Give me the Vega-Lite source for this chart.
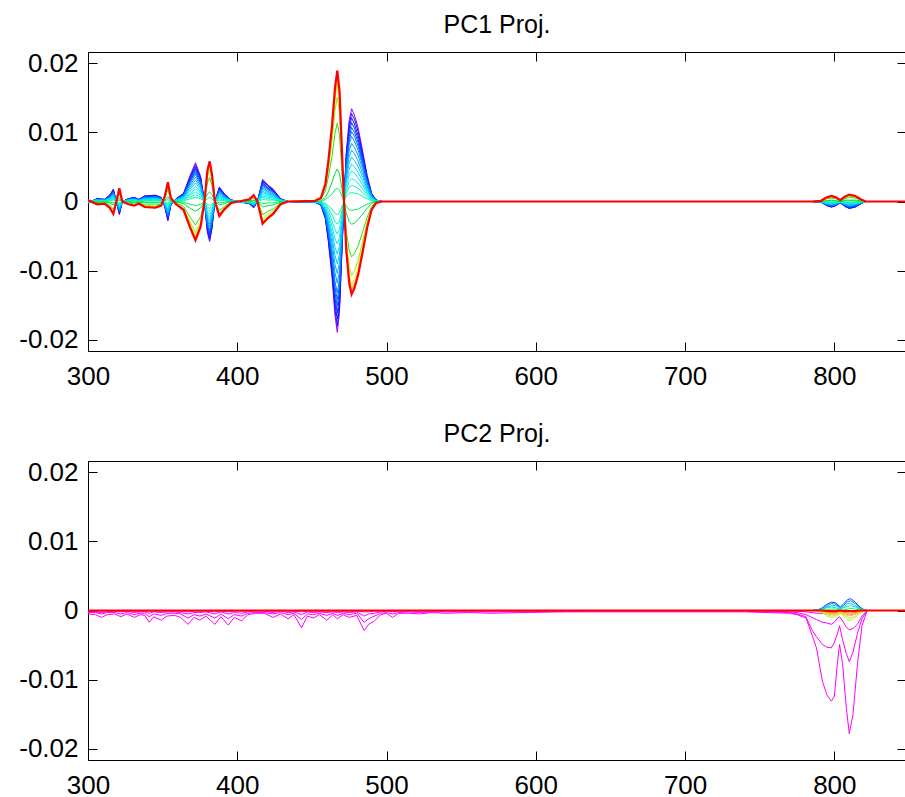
{
"$schema":"https://vega.github.io/schema/vega-lite/v6.json",
"padding":{"left":18,"top":12,"right":0,"bottom":-5},
"background":"white",
"config":{
 "font":"Liberation Sans",
 "view":{"stroke":"#000","strokeWidth":1},
 "axis":{"grid":false,"domain":false,"tickSize":-9,"tickColor":"#000","tickWidth":1,"labelFontSize":26,"labelColor":"#000","labelFont":"Liberation Sans","title":null,"labelFlush":false},
 "title":{"fontSize":25,"font":"Liberation Sans","fontWeight":"normal","color":"#000","offset":12}
},
"datasets":{
"pc1":[
{"x":300,"a":-2e-4,"b":-2e-4,"c":-2e-4,"d":-2e-4,"e":-1e-4,"f":-1e-4,"g":-1e-4,"h":0,"i":0,"j":0,"k":0,"l":1e-4,"m":2e-4,"n":2e-4,"o":2e-4,"p":2e-4,"q":-2e-4,"r":-2e-4,"s":-1e-4,"t":-1e-4,"u":-1e-4,"v":0},
{"x":306,"a":4e-4,"b":4e-4,"c":4e-4,"d":3e-4,"e":3e-4,"f":2e-4,"g":2e-4,"h":1e-4,"i":0,"j":0,"k":-1e-4,"l":-2e-4,"m":-3e-4,"n":-4e-4,"o":-4e-4,"p":-4e-4,"q":3e-4,"r":3e-4,"s":3e-4,"t":2e-4,"u":1e-4,"v":1e-4},
{"x":311,"a":3e-4,"b":3e-4,"c":3e-4,"d":2e-4,"e":2e-4,"f":2e-4,"g":1e-4,"h":1e-4,"i":0,"j":0,"k":-1e-4,"l":-2e-4,"m":-2e-4,"n":-3e-4,"o":-3e-4,"p":-3e-4,"q":3e-4,"r":2e-4,"s":2e-4,"t":1e-4,"u":1e-4,"v":1e-4},
{"x":314.5,"a":9e-4,"b":9e-4,"c":8e-4,"d":7e-4,"e":6e-4,"f":5e-4,"g":4e-4,"h":2e-4,"i":1e-4,"j":-1e-4,"k":-2e-4,"l":-5e-4,"m":-7e-4,"n":-8e-4,"o":-9e-4,"p":-9e-4,"q":8e-4,"r":7e-4,"s":6e-4,"t":4e-4,"u":3e-4,"v":2e-4},
{"x":317,"a":18e-4,"b":17e-4,"c":16e-4,"d":14e-4,"e":13e-4,"f":10e-4,"g":7e-4,"h":5e-4,"i":2e-4,"j":-2e-4,"k":-5e-4,"l":-11e-4,"m":-14e-4,"n":-16e-4,"o":-17e-4,"p":-18e-4,"q":15e-4,"r":14e-4,"s":11e-4,"t":9e-4,"u":6e-4,"v":3e-4},
{"x":319,"a":0,"b":0,"c":0,"d":0,"e":0,"f":0,"g":0,"h":0,"i":0,"j":0,"k":0,"l":0,"m":0,"n":0,"o":0,"p":0,"q":0,"r":0,"s":0,"t":0,"u":0,"v":0},
{"x":321,"a":-19e-4,"b":-18e-4,"c":-17e-4,"d":-15e-4,"e":-13e-4,"f":-10e-4,"g":-8e-4,"h":-5e-4,"i":-2e-4,"j":2e-4,"k":5e-4,"l":11e-4,"m":15e-4,"n":17e-4,"o":18e-4,"p":19e-4,"q":-16e-4,"r":-14e-4,"s":-12e-4,"t":-9e-4,"u":-6e-4,"v":-3e-4},
{"x":323,"a":0,"b":0,"c":0,"d":0,"e":0,"f":0,"g":0,"h":0,"i":0,"j":0,"k":0,"l":0,"m":0,"n":0,"o":0,"p":0,"q":0,"r":0,"s":0,"t":0,"u":0,"v":0},
{"x":327,"a":4e-4,"b":4e-4,"c":4e-4,"d":3e-4,"e":3e-4,"f":2e-4,"g":2e-4,"h":1e-4,"i":0,"j":0,"k":-1e-4,"l":-2e-4,"m":-3e-4,"n":-4e-4,"o":-4e-4,"p":-4e-4,"q":3e-4,"r":3e-4,"s":3e-4,"t":2e-4,"u":1e-4,"v":1e-4},
{"x":331,"a":6e-4,"b":6e-4,"c":5e-4,"d":5e-4,"e":4e-4,"f":3e-4,"g":2e-4,"h":2e-4,"i":1e-4,"j":-1e-4,"k":-2e-4,"l":-4e-4,"m":-5e-4,"n":-5e-4,"o":-6e-4,"p":-6e-4,"q":5e-4,"r":5e-4,"s":4e-4,"t":3e-4,"u":2e-4,"v":1e-4},
{"x":334,"a":3e-4,"b":3e-4,"c":3e-4,"d":2e-4,"e":2e-4,"f":2e-4,"g":1e-4,"h":1e-4,"i":0,"j":0,"k":-1e-4,"l":-2e-4,"m":-2e-4,"n":-3e-4,"o":-3e-4,"p":-3e-4,"q":3e-4,"r":2e-4,"s":2e-4,"t":1e-4,"u":1e-4,"v":1e-4},
{"x":338,"a":8e-4,"b":8e-4,"c":7e-4,"d":6e-4,"e":6e-4,"f":4e-4,"g":3e-4,"h":2e-4,"i":1e-4,"j":-1e-4,"k":-2e-4,"l":-5e-4,"m":-6e-4,"n":-7e-4,"o":-8e-4,"p":-8e-4,"q":7e-4,"r":6e-4,"s":5e-4,"t":4e-4,"u":3e-4,"v":1e-4},
{"x":345,"a":9e-4,"b":9e-4,"c":8e-4,"d":7e-4,"e":6e-4,"f":5e-4,"g":4e-4,"h":2e-4,"i":1e-4,"j":-1e-4,"k":-2e-4,"l":-5e-4,"m":-7e-4,"n":-8e-4,"o":-9e-4,"p":-9e-4,"q":8e-4,"r":7e-4,"s":6e-4,"t":4e-4,"u":3e-4,"v":2e-4},
{"x":349,"a":6e-4,"b":6e-4,"c":5e-4,"d":5e-4,"e":4e-4,"f":3e-4,"g":2e-4,"h":2e-4,"i":1e-4,"j":-1e-4,"k":-2e-4,"l":-4e-4,"m":-5e-4,"n":-5e-4,"o":-6e-4,"p":-6e-4,"q":5e-4,"r":5e-4,"s":4e-4,"t":3e-4,"u":2e-4,"v":1e-4},
{"x":351.5,"a":-8e-4,"b":-8e-4,"c":-7e-4,"d":-6e-4,"e":-6e-4,"f":-4e-4,"g":-3e-4,"h":-2e-4,"i":-1e-4,"j":1e-4,"k":2e-4,"l":5e-4,"m":6e-4,"n":7e-4,"o":8e-4,"p":8e-4,"q":-7e-4,"r":-6e-4,"s":-5e-4,"t":-4e-4,"u":-3e-4,"v":-1e-4},
{"x":353.5,"a":-28e-4,"b":-27e-4,"c":-25e-4,"d":-22e-4,"e":-20e-4,"f":-15e-4,"g":-11e-4,"h":-7e-4,"i":-3e-4,"j":3e-4,"k":7e-4,"l":17e-4,"m":22e-4,"n":25e-4,"o":27e-4,"p":28e-4,"q":-24e-4,"r":-21e-4,"s":-18e-4,"t":-13e-4,"u":-9e-4,"v":-5e-4},
{"x":355.5,"a":-5e-4,"b":-5e-4,"c":-5e-4,"d":-4e-4,"e":-4e-4,"f":-3e-4,"g":-2e-4,"h":-1e-4,"i":0,"j":0,"k":1e-4,"l":3e-4,"m":4e-4,"n":5e-4,"o":5e-4,"p":5e-4,"q":-4e-4,"r":-4e-4,"s":-3e-4,"t":-2e-4,"u":-2e-4,"v":-1e-4},
{"x":359,"a":4e-4,"b":4e-4,"c":4e-4,"d":3e-4,"e":3e-4,"f":2e-4,"g":2e-4,"h":1e-4,"i":0,"j":0,"k":-1e-4,"l":-2e-4,"m":-3e-4,"n":-4e-4,"o":-4e-4,"p":-4e-4,"q":3e-4,"r":3e-4,"s":3e-4,"t":2e-4,"u":1e-4,"v":1e-4},
{"x":364,"a":12e-4,"b":11e-4,"c":11e-4,"d":10e-4,"e":8e-4,"f":7e-4,"g":5e-4,"h":3e-4,"i":1e-4,"j":-1e-4,"k":-3e-4,"l":-7e-4,"m":-10e-4,"n":-11e-4,"o":-11e-4,"p":-12e-4,"q":10e-4,"r":9e-4,"s":8e-4,"t":6e-4,"u":4e-4,"v":2e-4},
{"x":368.5,"a":38e-4,"b":36e-4,"c":34e-4,"d":30e-4,"e":27e-4,"f":21e-4,"g":15e-4,"h":10e-4,"i":4e-4,"j":-4e-4,"k":-10e-4,"l":-23e-4,"m":-30e-4,"n":-34e-4,"o":-36e-4,"p":-38e-4,"q":32e-4,"r":29e-4,"s":24e-4,"t":18e-4,"u":12e-4,"v":7e-4},
{"x":372,"a":56e-4,"b":53e-4,"c":50e-4,"d":45e-4,"e":39e-4,"f":31e-4,"g":22e-4,"h":14e-4,"i":6e-4,"j":-6e-4,"k":-14e-4,"l":-34e-4,"m":-45e-4,"n":-50e-4,"o":-53e-4,"p":-56e-4,"q":48e-4,"r":42e-4,"s":35e-4,"t":27e-4,"u":18e-4,"v":10e-4},
{"x":375.5,"a":36e-4,"b":34e-4,"c":32e-4,"d":29e-4,"e":25e-4,"f":20e-4,"g":14e-4,"h":9e-4,"i":4e-4,"j":-4e-4,"k":-9e-4,"l":-22e-4,"m":-29e-4,"n":-32e-4,"o":-34e-4,"p":-36e-4,"q":31e-4,"r":27e-4,"s":23e-4,"t":17e-4,"u":12e-4,"v":6e-4},
{"x":378,"a":0,"b":0,"c":0,"d":0,"e":0,"f":0,"g":0,"h":0,"i":0,"j":0,"k":0,"l":0,"m":0,"n":0,"o":0,"p":0,"q":0,"r":0,"s":0,"t":0,"u":0,"v":0},
{"x":380,"a":-45e-4,"b":-43e-4,"c":-40e-4,"d":-36e-4,"e":-31e-4,"f":-25e-4,"g":-18e-4,"h":-11e-4,"i":-4e-4,"j":4e-4,"k":11e-4,"l":27e-4,"m":36e-4,"n":40e-4,"o":43e-4,"p":45e-4,"q":-38e-4,"r":-34e-4,"s":-28e-4,"t":-21e-4,"u":-15e-4,"v":-8e-4},
{"x":381.5,"a":-58e-4,"b":-55e-4,"c":-52e-4,"d":-46e-4,"e":-41e-4,"f":-32e-4,"g":-23e-4,"h":-14e-4,"i":-6e-4,"j":6e-4,"k":14e-4,"l":35e-4,"m":46e-4,"n":52e-4,"o":55e-4,"p":58e-4,"q":-49e-4,"r":-44e-4,"s":-36e-4,"t":-28e-4,"u":-19e-4,"v":-10e-4},
{"x":383,"a":-40e-4,"b":-38e-4,"c":-36e-4,"d":-32e-4,"e":-28e-4,"f":-22e-4,"g":-16e-4,"h":-10e-4,"i":-4e-4,"j":4e-4,"k":10e-4,"l":24e-4,"m":32e-4,"n":36e-4,"o":38e-4,"p":40e-4,"q":-34e-4,"r":-30e-4,"s":-25e-4,"t":-19e-4,"u":-13e-4,"v":-7e-4},
{"x":385,"a":0,"b":0,"c":0,"d":0,"e":0,"f":0,"g":0,"h":0,"i":0,"j":0,"k":0,"l":0,"m":0,"n":0,"o":0,"p":0,"q":0,"r":0,"s":0,"t":0,"u":0,"v":0},
{"x":388,"a":21e-4,"b":20e-4,"c":19e-4,"d":17e-4,"e":15e-4,"f":12e-4,"g":8e-4,"h":5e-4,"i":2e-4,"j":-2e-4,"k":-5e-4,"l":-13e-4,"m":-17e-4,"n":-19e-4,"o":-20e-4,"p":-21e-4,"q":18e-4,"r":16e-4,"s":13e-4,"t":10e-4,"u":7e-4,"v":4e-4},
{"x":391.5,"a":11e-4,"b":10e-4,"c":10e-4,"d":9e-4,"e":8e-4,"f":6e-4,"g":4e-4,"h":3e-4,"i":1e-4,"j":-1e-4,"k":-3e-4,"l":-7e-4,"m":-9e-4,"n":-10e-4,"o":-10e-4,"p":-11e-4,"q":9e-4,"r":8e-4,"s":7e-4,"t":5e-4,"u":4e-4,"v":2e-4},
{"x":396,"a":2e-4,"b":2e-4,"c":2e-4,"d":2e-4,"e":1e-4,"f":1e-4,"g":1e-4,"h":0,"i":0,"j":0,"k":0,"l":-1e-4,"m":-2e-4,"n":-2e-4,"o":-2e-4,"p":-2e-4,"q":2e-4,"r":2e-4,"s":1e-4,"t":1e-4,"u":1e-4,"v":0},
{"x":401,"a":0,"b":0,"c":0,"d":0,"e":0,"f":0,"g":0,"h":0,"i":0,"j":0,"k":0,"l":0,"m":0,"n":0,"o":0,"p":0,"q":0,"r":0,"s":0,"t":0,"u":0,"v":0},
{"x":408,"a":-3e-4,"b":-3e-4,"c":-3e-4,"d":-2e-4,"e":-2e-4,"f":-2e-4,"g":-1e-4,"h":-1e-4,"i":0,"j":0,"k":1e-4,"l":2e-4,"m":2e-4,"n":3e-4,"o":3e-4,"p":3e-4,"q":-3e-4,"r":-2e-4,"s":-2e-4,"t":-1e-4,"u":-1e-4,"v":-1e-4},
{"x":411,"a":-9e-4,"b":-9e-4,"c":-8e-4,"d":-7e-4,"e":-6e-4,"f":-5e-4,"g":-4e-4,"h":-2e-4,"i":-1e-4,"j":1e-4,"k":2e-4,"l":5e-4,"m":7e-4,"n":8e-4,"o":9e-4,"p":9e-4,"q":-8e-4,"r":-7e-4,"s":-6e-4,"t":-4e-4,"u":-3e-4,"v":-2e-4},
{"x":413.5,"a":0,"b":0,"c":0,"d":0,"e":0,"f":0,"g":0,"h":0,"i":0,"j":0,"k":0,"l":0,"m":0,"n":0,"o":0,"p":0,"q":0,"r":0,"s":0,"t":0,"u":0,"v":0},
{"x":417,"a":32e-4,"b":30e-4,"c":29e-4,"d":26e-4,"e":22e-4,"f":18e-4,"g":13e-4,"h":8e-4,"i":3e-4,"j":-3e-4,"k":-8e-4,"l":-19e-4,"m":-26e-4,"n":-29e-4,"o":-30e-4,"p":-32e-4,"q":27e-4,"r":24e-4,"s":20e-4,"t":15e-4,"u":10e-4,"v":6e-4},
{"x":420.5,"a":24e-4,"b":23e-4,"c":22e-4,"d":19e-4,"e":17e-4,"f":13e-4,"g":10e-4,"h":6e-4,"i":2e-4,"j":-2e-4,"k":-6e-4,"l":-14e-4,"m":-19e-4,"n":-22e-4,"o":-23e-4,"p":-24e-4,"q":20e-4,"r":18e-4,"s":15e-4,"t":11e-4,"u":8e-4,"v":4e-4},
{"x":424,"a":18e-4,"b":17e-4,"c":16e-4,"d":14e-4,"e":13e-4,"f":10e-4,"g":7e-4,"h":5e-4,"i":2e-4,"j":-2e-4,"k":-5e-4,"l":-11e-4,"m":-14e-4,"n":-16e-4,"o":-17e-4,"p":-18e-4,"q":15e-4,"r":14e-4,"s":11e-4,"t":9e-4,"u":6e-4,"v":3e-4},
{"x":429,"a":4e-4,"b":4e-4,"c":4e-4,"d":3e-4,"e":3e-4,"f":2e-4,"g":2e-4,"h":1e-4,"i":0,"j":0,"k":-1e-4,"l":-2e-4,"m":-3e-4,"n":-4e-4,"o":-4e-4,"p":-4e-4,"q":3e-4,"r":3e-4,"s":3e-4,"t":2e-4,"u":1e-4,"v":1e-4},
{"x":434,"a":0,"b":0,"c":0,"d":0,"e":0,"f":0,"g":0,"h":0,"i":0,"j":0,"k":0,"l":0,"m":0,"n":0,"o":0,"p":0,"q":0,"r":0,"s":0,"t":0,"u":0,"v":0},
{"x":452,"a":-1e-4,"b":-1e-4,"c":-1e-4,"d":-1e-4,"e":-1e-4,"f":-1e-4,"g":0,"h":0,"i":0,"j":0,"k":0,"l":1e-4,"m":1e-4,"n":1e-4,"o":1e-4,"p":1e-4,"q":-1e-4,"r":-1e-4,"s":-1e-4,"t":0,"u":0,"v":0},
{"x":456,"a":-5e-4,"b":-5e-4,"c":-5e-4,"d":-4e-4,"e":-4e-4,"f":-3e-4,"g":-2e-4,"h":-1e-4,"i":0,"j":0,"k":1e-4,"l":3e-4,"m":4e-4,"n":5e-4,"o":5e-4,"p":5e-4,"q":-4e-4,"r":-4e-4,"s":-3e-4,"t":-2e-4,"u":-2e-4,"v":-1e-4},
{"x":459,"a":-25e-4,"b":-24e-4,"c":-22e-4,"d":-20e-4,"e":-18e-4,"f":-14e-4,"g":-10e-4,"h":-6e-4,"i":-3e-4,"j":3e-4,"k":6e-4,"l":15e-4,"m":20e-4,"n":22e-4,"o":24e-4,"p":25e-4,"q":-21e-4,"r":-19e-4,"s":-16e-4,"t":-12e-4,"u":-8e-4,"v":-4e-4},
{"x":461,"a":-58e-4,"b":-55e-4,"c":-52e-4,"d":-46e-4,"e":-41e-4,"f":-32e-4,"g":-23e-4,"h":-14e-4,"i":-6e-4,"j":6e-4,"k":14e-4,"l":35e-4,"m":46e-4,"n":52e-4,"o":55e-4,"p":58e-4,"q":-49e-4,"r":-44e-4,"s":-36e-4,"t":-28e-4,"u":-19e-4,"v":-10e-4},
{"x":463.5,"a":-110e-4,"b":-104e-4,"c":-99e-4,"d":-88e-4,"e":-77e-4,"f":-60e-4,"g":-44e-4,"h":-28e-4,"i":-11e-4,"j":11e-4,"k":28e-4,"l":66e-4,"m":88e-4,"n":99e-4,"o":104e-4,"p":110e-4,"q":-94e-4,"r":-83e-4,"s":-69e-4,"t":-52e-4,"u":-36e-4,"v":-19e-4},
{"x":465.5,"a":-165e-4,"b":-157e-4,"c":-148e-4,"d":-132e-4,"e":-116e-4,"f":-91e-4,"g":-66e-4,"h":-41e-4,"i":-17e-4,"j":17e-4,"k":41e-4,"l":99e-4,"m":132e-4,"n":148e-4,"o":157e-4,"p":165e-4,"q":-140e-4,"r":-124e-4,"s":-103e-4,"t":-78e-4,"u":-54e-4,"v":-29e-4},
{"x":467,"a":-189e-4,"b":-180e-4,"c":-170e-4,"d":-151e-4,"e":-132e-4,"f":-104e-4,"g":-76e-4,"h":-47e-4,"i":-19e-4,"j":19e-4,"k":47e-4,"l":113e-4,"m":151e-4,"n":170e-4,"o":180e-4,"p":189e-4,"q":-161e-4,"r":-142e-4,"s":-118e-4,"t":-90e-4,"u":-61e-4,"v":-33e-4},
{"x":468.5,"a":-160e-4,"b":-152e-4,"c":-144e-4,"d":-128e-4,"e":-112e-4,"f":-88e-4,"g":-64e-4,"h":-40e-4,"i":-16e-4,"j":16e-4,"k":40e-4,"l":96e-4,"m":128e-4,"n":144e-4,"o":152e-4,"p":160e-4,"q":-136e-4,"r":-120e-4,"s":-100e-4,"t":-76e-4,"u":-52e-4,"v":-28e-4},
{"x":470,"a":-80e-4,"b":-76e-4,"c":-72e-4,"d":-64e-4,"e":-56e-4,"f":-44e-4,"g":-32e-4,"h":-20e-4,"i":-8e-4,"j":8e-4,"k":20e-4,"l":48e-4,"m":64e-4,"n":72e-4,"o":76e-4,"p":80e-4,"q":-68e-4,"r":-60e-4,"s":-50e-4,"t":-38e-4,"u":-26e-4,"v":-14e-4},
{"x":471.5,"a":0,"b":0,"c":0,"d":0,"e":0,"f":0,"g":0,"h":0,"i":0,"j":0,"k":0,"l":0,"m":0,"n":0,"o":0,"p":0,"q":0,"r":0,"s":0,"t":0,"u":0,"v":0},
{"x":473,"a":70e-4,"b":66e-4,"c":63e-4,"d":56e-4,"e":49e-4,"f":38e-4,"g":28e-4,"h":17e-4,"i":7e-4,"j":-7e-4,"k":-17e-4,"l":-42e-4,"m":-56e-4,"n":-63e-4,"o":-66e-4,"p":-70e-4,"q":60e-4,"r":53e-4,"s":44e-4,"t":33e-4,"u":23e-4,"v":12e-4},
{"x":475,"a":118e-4,"b":112e-4,"c":106e-4,"d":94e-4,"e":83e-4,"f":65e-4,"g":47e-4,"h":29e-4,"i":12e-4,"j":-12e-4,"k":-29e-4,"l":-71e-4,"m":-94e-4,"n":-106e-4,"o":-112e-4,"p":-118e-4,"q":100e-4,"r":89e-4,"s":74e-4,"t":56e-4,"u":38e-4,"v":21e-4},
{"x":476.6,"a":134e-4,"b":127e-4,"c":121e-4,"d":107e-4,"e":94e-4,"f":74e-4,"g":54e-4,"h":33e-4,"i":13e-4,"j":-13e-4,"k":-33e-4,"l":-80e-4,"m":-107e-4,"n":-121e-4,"o":-127e-4,"p":-134e-4,"q":114e-4,"r":101e-4,"s":84e-4,"t":64e-4,"u":44e-4,"v":23e-4},
{"x":478.5,"a":125e-4,"b":119e-4,"c":112e-4,"d":100e-4,"e":87e-4,"f":69e-4,"g":50e-4,"h":31e-4,"i":12e-4,"j":-12e-4,"k":-31e-4,"l":-75e-4,"m":-100e-4,"n":-112e-4,"o":-119e-4,"p":-125e-4,"q":106e-4,"r":94e-4,"s":78e-4,"t":59e-4,"u":41e-4,"v":22e-4},
{"x":481,"a":106e-4,"b":101e-4,"c":95e-4,"d":85e-4,"e":74e-4,"f":58e-4,"g":42e-4,"h":26e-4,"i":11e-4,"j":-11e-4,"k":-26e-4,"l":-64e-4,"m":-85e-4,"n":-95e-4,"o":-101e-4,"p":-106e-4,"q":90e-4,"r":80e-4,"s":66e-4,"t":50e-4,"u":34e-4,"v":19e-4},
{"x":484,"a":73e-4,"b":69e-4,"c":66e-4,"d":58e-4,"e":51e-4,"f":40e-4,"g":29e-4,"h":18e-4,"i":7e-4,"j":-7e-4,"k":-18e-4,"l":-44e-4,"m":-58e-4,"n":-66e-4,"o":-69e-4,"p":-73e-4,"q":62e-4,"r":55e-4,"s":46e-4,"t":35e-4,"u":24e-4,"v":13e-4},
{"x":487,"a":38e-4,"b":36e-4,"c":34e-4,"d":30e-4,"e":27e-4,"f":21e-4,"g":15e-4,"h":10e-4,"i":4e-4,"j":-4e-4,"k":-10e-4,"l":-23e-4,"m":-30e-4,"n":-34e-4,"o":-36e-4,"p":-38e-4,"q":32e-4,"r":29e-4,"s":24e-4,"t":18e-4,"u":12e-4,"v":7e-4},
{"x":490,"a":12e-4,"b":11e-4,"c":11e-4,"d":10e-4,"e":8e-4,"f":7e-4,"g":5e-4,"h":3e-4,"i":1e-4,"j":-1e-4,"k":-3e-4,"l":-7e-4,"m":-10e-4,"n":-11e-4,"o":-11e-4,"p":-12e-4,"q":10e-4,"r":9e-4,"s":8e-4,"t":6e-4,"u":4e-4,"v":2e-4},
{"x":493,"a":2e-4,"b":2e-4,"c":2e-4,"d":2e-4,"e":1e-4,"f":1e-4,"g":1e-4,"h":0,"i":0,"j":0,"k":0,"l":-1e-4,"m":-2e-4,"n":-2e-4,"o":-2e-4,"p":-2e-4,"q":2e-4,"r":2e-4,"s":1e-4,"t":1e-4,"u":1e-4,"v":0},
{"x":497,"a":0,"b":0,"c":0,"d":0,"e":0,"f":0,"g":0,"h":0,"i":0,"j":0,"k":0,"l":0,"m":0,"n":0,"o":0,"p":0,"q":0,"r":0,"s":0,"t":0,"u":0,"v":0},
{"x":785,"a":0,"b":0,"c":0,"d":0,"e":0,"f":0,"g":0,"h":0,"i":0,"j":0,"k":0,"l":0,"m":0,"n":0,"o":0,"p":0,"q":0,"r":0,"s":0,"t":0,"u":0,"v":0},
{"x":791,"a":-1e-4,"b":-1e-4,"c":-1e-4,"d":-1e-4,"e":-1e-4,"f":-1e-4,"g":0,"h":0,"i":0,"j":0,"k":0,"l":1e-4,"m":1e-4,"n":1e-4,"o":1e-4,"p":1e-4,"q":-1e-4,"r":-1e-4,"s":-1e-4,"t":0,"u":0,"v":0},
{"x":795,"a":-6e-4,"b":-6e-4,"c":-5e-4,"d":-5e-4,"e":-4e-4,"f":-3e-4,"g":-2e-4,"h":-1e-4,"i":-1e-4,"j":1e-4,"k":1e-4,"l":4e-4,"m":5e-4,"n":5e-4,"o":6e-4,"p":6e-4,"q":-5e-4,"r":-5e-4,"s":-4e-4,"t":-3e-4,"u":-2e-4,"v":-1e-4},
{"x":798,"a":-8e-4,"b":-8e-4,"c":-7e-4,"d":-6e-4,"e":-6e-4,"f":-4e-4,"g":-3e-4,"h":-2e-4,"i":-1e-4,"j":1e-4,"k":2e-4,"l":5e-4,"m":6e-4,"n":7e-4,"o":8e-4,"p":8e-4,"q":-7e-4,"r":-6e-4,"s":-5e-4,"t":-4e-4,"u":-3e-4,"v":-1e-4},
{"x":801,"a":-6e-4,"b":-6e-4,"c":-5e-4,"d":-5e-4,"e":-4e-4,"f":-3e-4,"g":-2e-4,"h":-1e-4,"i":-1e-4,"j":1e-4,"k":1e-4,"l":4e-4,"m":5e-4,"n":5e-4,"o":6e-4,"p":6e-4,"q":-5e-4,"r":-5e-4,"s":-4e-4,"t":-3e-4,"u":-2e-4,"v":-1e-4},
{"x":804,"a":-2e-4,"b":-2e-4,"c":-2e-4,"d":-2e-4,"e":-1e-4,"f":-1e-4,"g":-1e-4,"h":0,"i":0,"j":0,"k":0,"l":1e-4,"m":2e-4,"n":2e-4,"o":2e-4,"p":2e-4,"q":-2e-4,"r":-2e-4,"s":-1e-4,"t":-1e-4,"u":-1e-4,"v":0},
{"x":807,"a":-7e-4,"b":-7e-4,"c":-6e-4,"d":-6e-4,"e":-5e-4,"f":-4e-4,"g":-3e-4,"h":-2e-4,"i":-1e-4,"j":1e-4,"k":2e-4,"l":4e-4,"m":6e-4,"n":6e-4,"o":7e-4,"p":7e-4,"q":-6e-4,"r":-5e-4,"s":-4e-4,"t":-3e-4,"u":-2e-4,"v":-1e-4},
{"x":810,"a":-10e-4,"b":-10e-4,"c":-9e-4,"d":-8e-4,"e":-7e-4,"f":-5e-4,"g":-4e-4,"h":-2e-4,"i":-1e-4,"j":1e-4,"k":2e-4,"l":6e-4,"m":8e-4,"n":9e-4,"o":10e-4,"p":10e-4,"q":-8e-4,"r":-8e-4,"s":-6e-4,"t":-5e-4,"u":-3e-4,"v":-2e-4},
{"x":814,"a":-8e-4,"b":-8e-4,"c":-7e-4,"d":-6e-4,"e":-6e-4,"f":-4e-4,"g":-3e-4,"h":-2e-4,"i":-1e-4,"j":1e-4,"k":2e-4,"l":5e-4,"m":6e-4,"n":7e-4,"o":8e-4,"p":8e-4,"q":-7e-4,"r":-6e-4,"s":-5e-4,"t":-4e-4,"u":-3e-4,"v":-1e-4},
{"x":818,"a":-3e-4,"b":-3e-4,"c":-3e-4,"d":-2e-4,"e":-2e-4,"f":-2e-4,"g":-1e-4,"h":-1e-4,"i":0,"j":0,"k":1e-4,"l":2e-4,"m":2e-4,"n":3e-4,"o":3e-4,"p":3e-4,"q":-3e-4,"r":-2e-4,"s":-2e-4,"t":-1e-4,"u":-1e-4,"v":-1e-4},
{"x":821,"a":0,"b":0,"c":0,"d":0,"e":0,"f":0,"g":0,"h":0,"i":0,"j":0,"k":0,"l":0,"m":0,"n":0,"o":0,"p":0,"q":0,"r":0,"s":0,"t":0,"u":0,"v":0},
{"x":848,"a":0,"b":0,"c":0,"d":0,"e":0,"f":0,"g":0,"h":0,"i":0,"j":0,"k":0,"l":0,"m":0,"n":0,"o":0,"p":0,"q":0,"r":0,"s":0,"t":0,"u":0,"v":0}
],
"pc2m":[
{"x":300,"m1":-5e-4,"m2":-3e-4,"m3":-2e-4,"m4":-1e-4},
{"x":305,"m1":-6e-4,"m2":-3e-4,"m3":-2e-4,"m4":-1e-4},
{"x":309,"m1":-10e-4,"m2":-5e-4,"m3":-3e-4,"m4":-1e-4},
{"x":313,"m1":-6e-4,"m2":-3e-4,"m3":-2e-4,"m4":-1e-4},
{"x":318,"m1":-5e-4,"m2":-3e-4,"m3":-1e-4,"m4":-1e-4},
{"x":322,"m1":-9e-4,"m2":-5e-4,"m3":-2e-4,"m4":-1e-4},
{"x":326,"m1":-5e-4,"m2":-3e-4,"m3":-1e-4,"m4":-1e-4},
{"x":331,"m1":-10e-4,"m2":-6e-4,"m3":-3e-4,"m4":-1e-4},
{"x":335,"m1":-6e-4,"m2":-4e-4,"m3":-2e-4,"m4":-1e-4},
{"x":338,"m1":-7e-4,"m2":-4e-4,"m3":-2e-4,"m4":-1e-4},
{"x":341,"m1":-17e-4,"m2":-9e-4,"m3":-4e-4,"m4":-1e-4},
{"x":344,"m1":-9e-4,"m2":-5e-4,"m3":-2e-4,"m4":-1e-4},
{"x":349,"m1":-14e-4,"m2":-7e-4,"m3":-3e-4,"m4":-1e-4},
{"x":353,"m1":-8e-4,"m2":-4e-4,"m3":-2e-4,"m4":-1e-4},
{"x":358,"m1":-7e-4,"m2":-4e-4,"m3":-2e-4,"m4":-1e-4},
{"x":362,"m1":-10e-4,"m2":-5e-4,"m3":-3e-4,"m4":-1e-4},
{"x":367,"m1":-20e-4,"m2":-11e-4,"m3":-5e-4,"m4":-2e-4},
{"x":371,"m1":-10e-4,"m2":-6e-4,"m3":-3e-4,"m4":-1e-4},
{"x":375,"m1":-14e-4,"m2":-8e-4,"m3":-3e-4,"m4":-1e-4},
{"x":379,"m1":-8e-4,"m2":-5e-4,"m3":-2e-4,"m4":-1e-4},
{"x":385,"m1":-20e-4,"m2":-11e-4,"m3":-5e-4,"m4":-2e-4},
{"x":389,"m1":-9e-4,"m2":-5e-4,"m3":-2e-4,"m4":-1e-4},
{"x":394,"m1":-21e-4,"m2":-12e-4,"m3":-5e-4,"m4":-2e-4},
{"x":398,"m1":-10e-4,"m2":-6e-4,"m3":-3e-4,"m4":-1e-4},
{"x":403,"m1":-15e-4,"m2":-8e-4,"m3":-4e-4,"m4":-1e-4},
{"x":407,"m1":-6e-4,"m2":-4e-4,"m3":-2e-4,"m4":-1e-4},
{"x":412,"m1":-4e-4,"m2":-3e-4,"m3":-1e-4,"m4":0},
{"x":418,"m1":-4e-4,"m2":-3e-4,"m3":-1e-4,"m4":0},
{"x":424,"m1":-10e-4,"m2":-5e-4,"m3":-3e-4,"m4":-1e-4},
{"x":429,"m1":-5e-4,"m2":-3e-4,"m3":-1e-4,"m4":0},
{"x":434,"m1":-12e-4,"m2":-6e-4,"m3":-3e-4,"m4":-1e-4},
{"x":438,"m1":-6e-4,"m2":-4e-4,"m3":-2e-4,"m4":-1e-4},
{"x":443,"m1":-25e-4,"m2":-13e-4,"m3":-6e-4,"m4":-2e-4},
{"x":447,"m1":-8e-4,"m2":-5e-4,"m3":-2e-4,"m4":-1e-4},
{"x":451,"m1":-11e-4,"m2":-6e-4,"m3":-3e-4,"m4":-1e-4},
{"x":455,"m1":-6e-4,"m2":-4e-4,"m3":-2e-4,"m4":-1e-4},
{"x":460,"m1":-14e-4,"m2":-7e-4,"m3":-3e-4,"m4":-1e-4},
{"x":464,"m1":-6e-4,"m2":-4e-4,"m3":-2e-4,"m4":-1e-4},
{"x":467,"m1":-12e-4,"m2":-7e-4,"m3":-3e-4,"m4":-1e-4},
{"x":471,"m1":-6e-4,"m2":-4e-4,"m3":-2e-4,"m4":-1e-4},
{"x":475,"m1":-10e-4,"m2":-6e-4,"m3":-3e-4,"m4":-1e-4},
{"x":480,"m1":-7e-4,"m2":-4e-4,"m3":-2e-4,"m4":-1e-4},
{"x":485,"m1":-29e-4,"m2":-17e-4,"m3":-8e-4,"m4":-2e-4},
{"x":488,"m1":-20e-4,"m2":-12e-4,"m3":-5e-4,"m4":-2e-4},
{"x":492,"m1":-15e-4,"m2":-8e-4,"m3":-4e-4,"m4":-1e-4},
{"x":496,"m1":-6e-4,"m2":-4e-4,"m3":-2e-4,"m4":-1e-4},
{"x":500,"m1":-4e-4,"m2":-3e-4,"m3":-1e-4,"m4":0},
{"x":504,"m1":-10e-4,"m2":-5e-4,"m3":-2e-4,"m4":-1e-4},
{"x":508,"m1":-4e-4,"m2":-3e-4,"m3":-1e-4,"m4":0},
{"x":515,"m1":-4e-4,"m2":-2e-4,"m3":-1e-4,"m4":0},
{"x":522,"m1":-5e-4,"m2":-3e-4,"m3":-1e-4,"m4":0},
{"x":530,"m1":-3e-4,"m2":-2e-4,"m3":-1e-4,"m4":0},
{"x":540,"m1":-4e-4,"m2":-2e-4,"m3":-1e-4,"m4":0},
{"x":555,"m1":-3e-4,"m2":-2e-4,"m3":-1e-4,"m4":0},
{"x":570,"m1":-4e-4,"m2":-2e-4,"m3":-1e-4,"m4":0},
{"x":590,"m1":-3e-4,"m2":-2e-4,"m3":-1e-4,"m4":0},
{"x":620,"m1":-2e-4,"m2":-1e-4,"m3":-1e-4,"m4":0},
{"x":650,"m1":-2e-4,"m2":-1e-4,"m3":0,"m4":0},
{"x":700,"m1":-2e-4,"m2":-1e-4,"m3":0,"m4":0},
{"x":740,"m1":-2e-4,"m2":-1e-4,"m3":0,"m4":0},
{"x":770,"m1":-4e-4,"m2":-3e-4,"m3":-2e-4,"m4":-1e-4},
{"x":775,"m1":-6e-4,"m2":-5e-4,"m3":-3e-4,"m4":-1e-4},
{"x":781,"m1":-11e-4,"m2":-9e-4,"m3":-6e-4,"m4":-2e-4},
{"x":785,"m1":-35e-4,"m2":-28e-4,"m3":-10e-4,"m4":-3e-4},
{"x":788,"m1":-54e-4,"m2":-38e-4,"m3":-13e-4,"m4":-4e-4},
{"x":792,"m1":-102e-4,"m2":-49e-4,"m3":-17e-4,"m4":-4e-4},
{"x":795,"m1":-122e-4,"m2":-53e-4,"m3":-18e-4,"m4":-5e-4},
{"x":798,"m1":-131e-4,"m2":-54e-4,"m3":-20e-4,"m4":-5e-4},
{"x":800,"m1":-124e-4,"m2":-46e-4,"m3":-17e-4,"m4":-5e-4},
{"x":802,"m1":-77e-4,"m2":-34e-4,"m3":-11e-4,"m4":-4e-4},
{"x":803.5,"m1":-49e-4,"m2":-22e-4,"m3":-9e-4,"m4":-3e-4},
{"x":805.5,"m1":-77e-4,"m2":-42e-4,"m3":-15e-4,"m4":-4e-4},
{"x":808,"m1":-140e-4,"m2":-62e-4,"m3":-24e-4,"m4":-6e-4},
{"x":810,"m1":-178e-4,"m2":-74e-4,"m3":-28e-4,"m4":-7e-4},
{"x":812.5,"m1":-150e-4,"m2":-60e-4,"m3":-26e-4,"m4":-6e-4},
{"x":815.5,"m1":-77e-4,"m2":-33e-4,"m3":-20e-4,"m4":-4e-4},
{"x":818.5,"m1":-22e-4,"m2":-12e-4,"m3":-8e-4,"m4":-2e-4},
{"x":822,"m1":0,"m2":0,"m3":0,"m4":0},
{"x":848,"m1":0,"m2":0,"m3":0,"m4":0}
],
"pc2r":[
{"x":300,"r0":0,"r1":0,"r2":0,"r3":0,"r4":0,"r5":0,"r6":0,"r7":0,"r8":0,"r9":0},
{"x":785,"r0":0,"r1":0,"r2":0,"r3":0,"r4":0,"r5":0,"r6":0,"r7":0,"r8":0,"r9":0},
{"x":789,"r0":1e-4,"r1":1e-4,"r2":1e-4,"r3":0,"r4":0,"r5":-1e-4,"r6":-1e-4,"r7":0,"r8":0,"r9":0},
{"x":792,"r0":4e-4,"r1":3e-4,"r2":2e-4,"r3":2e-4,"r4":1e-4,"r5":-3e-4,"r6":-3e-4,"r7":-2e-4,"r8":-1e-4,"r9":0},
{"x":795,"r0":9e-4,"r1":7e-4,"r2":5e-4,"r3":4e-4,"r4":1e-4,"r5":-8e-4,"r6":-6e-4,"r7":-4e-4,"r8":-2e-4,"r9":-1e-4},
{"x":798,"r0":12e-4,"r1":10e-4,"r2":7e-4,"r3":5e-4,"r4":2e-4,"r5":-10e-4,"r6":-8e-4,"r7":-5e-4,"r8":-3e-4,"r9":-1e-4},
{"x":801,"r0":11e-4,"r1":9e-4,"r2":7e-4,"r3":4e-4,"r4":2e-4,"r5":-9e-4,"r6":-7e-4,"r7":-5e-4,"r8":-3e-4,"r9":-1e-4},
{"x":804,"r0":5e-4,"r1":4e-4,"r2":3e-4,"r3":2e-4,"r4":1e-4,"r5":-4e-4,"r6":-3e-4,"r7":-2e-4,"r8":-1e-4,"r9":0},
{"x":806,"r0":9e-4,"r1":7e-4,"r2":5e-4,"r3":4e-4,"r4":1e-4,"r5":-8e-4,"r6":-6e-4,"r7":-4e-4,"r8":-2e-4,"r9":-1e-4},
{"x":809,"r0":16e-4,"r1":13e-4,"r2":10e-4,"r3":6e-4,"r4":2e-4,"r5":-14e-4,"r6":-10e-4,"r7":-7e-4,"r8":-4e-4,"r9":-1e-4},
{"x":811,"r0":17e-4,"r1":14e-4,"r2":10e-4,"r3":7e-4,"r4":3e-4,"r5":-14e-4,"r6":-11e-4,"r7":-8e-4,"r8":-4e-4,"r9":-1e-4},
{"x":814,"r0":12e-4,"r1":10e-4,"r2":7e-4,"r3":5e-4,"r4":2e-4,"r5":-10e-4,"r6":-8e-4,"r7":-5e-4,"r8":-3e-4,"r9":-1e-4},
{"x":817,"r0":5e-4,"r1":4e-4,"r2":3e-4,"r3":2e-4,"r4":1e-4,"r5":-4e-4,"r6":-3e-4,"r7":-2e-4,"r8":-1e-4,"r9":0},
{"x":820,"r0":1e-4,"r1":1e-4,"r2":1e-4,"r3":0,"r4":0,"r5":-1e-4,"r6":-1e-4,"r7":0,"r8":0,"r9":0},
{"x":822,"r0":0,"r1":0,"r2":0,"r3":0,"r4":0,"r5":0,"r6":0,"r7":0,"r8":0,"r9":0},
{"x":848,"r0":0,"r1":0,"r2":0,"r3":0,"r4":0,"r5":0,"r6":0,"r7":0,"r8":0,"r9":0}
]
},
"bounds":"flush",
"spacing":110,
"resolve":{"scale":{"color":"independent"}},
"vconcat":[
{
 "title":{"text":"PC1 Proj."},
 "width":818,"height":299,
 "layer":[
  {"data":{"name":"pc1"},
   "transform":[{"fold":["a","b","c","q","d","r","e","s","f","t","g","u","h","v","i","j","k","l","m","n","o","p"],"as":["k","y"]}],
   "mark":{"type":"line","clip":true},
   "encoding":{
    "x":{"field":"x","type":"quantitative","scale":{"domain":[300,848],"nice":false,"zero":false},"axis":{"values":[300,400,500,600,700,800],"labelPadding":21.5}},
    "y":{"field":"y","type":"quantitative","scale":{"domain":[-0.0216,0.0216],"nice":false,"zero":false},"axis":{"values":[-0.02,-0.01,0,0.01,0.02],"labelPadding":19,"labelExpr":"datum.value == 0 ? '0' : (datum.value < 0 ? '-' : '') + format(abs(datum.value), '.2f')"}},
    "color":{"field":"k","type":"nominal","legend":null,"scale":{"domain":["a","b","c","q","d","r","e","s","f","t","g","u","h","v","i","j","k","l","m","n","o","p"],"range":["#9900ff","#3300ff","#0022ff","#0033ff","#0050ff","#0066ff","#0080ff","#0099ff","#00b0ff","#00c4ff","#00d8ff","#00e8f8","#00f0e0","#00f8c0","#00ffa0","#00f060","#00e040","#30e000","#90f000","#f0f000","#ffa000","#ff0000"]}},
    "strokeWidth":{"condition":{"test":"datum.k === 'p'","value":2.2},"value":1}
   }},
  {"data":{"values":[{"x":300,"y":0}]},
   "mark":{"type":"point","opacity":0},
   "encoding":{
    "x":{"field":"x","type":"quantitative","axis":{"orient":"top","labels":false,"values":[300,400,500,600,700,800]}},
    "y":{"field":"y","type":"quantitative","axis":{"orient":"right","labels":false,"values":[-0.02,-0.01,0,0.01,0.02]}}
   }}
 ],
 "resolve":{"axis":{"x":"independent","y":"independent"}}
},
{
 "title":{"text":"PC2 Proj."},
 "width":818,"height":299,
 "layer":[
  {"data":{"name":"pc2m"},
   "transform":[{"fold":["m1","m2","m3","m4"],"as":["k","y"]}],
   "mark":{"type":"line","clip":true,"strokeWidth":1},
   "encoding":{
    "x":{"field":"x","type":"quantitative","scale":{"domain":[300,848],"nice":false,"zero":false},"axis":{"values":[300,400,500,600,700,800],"labelPadding":21.5}},
    "y":{"field":"y","type":"quantitative","scale":{"domain":[-0.0216,0.0216],"nice":false,"zero":false},"axis":{"values":[-0.02,-0.01,0,0.01,0.02],"labelPadding":19,"labelExpr":"datum.value == 0 ? '0' : (datum.value < 0 ? '-' : '') + format(abs(datum.value), '.2f')"}},
    "color":{"field":"k","type":"nominal","legend":null,"scale":{"domain":["m1","m2","m3","m4","r0","r1","r2","r3","r4","r5","r6","r7","r8","r9"],"range":["#ff00ff","#ff00ff","#ff00ff","#ff00ff","#0040ff","#0090ff","#00d0ff","#00f0b0","#00ff40","#a0ff40","#d0f000","#ffe000","#ff9000","#ff0000"]}}
   }},
  {"data":{"name":"pc2r"},
   "transform":[{"fold":["r0","r1","r2","r3","r4","r5","r6","r7","r8","r9"],"as":["k","y"]}],
   "mark":{"type":"line","clip":true},
   "encoding":{
    "x":{"field":"x","type":"quantitative","axis":null},
    "y":{"field":"y","type":"quantitative","axis":null},
    "color":{"field":"k","type":"nominal","legend":null},
    "strokeWidth":{"condition":{"test":"datum.k === 'r9'","value":2.2},"value":1}
   }},
  {"data":{"values":[{"x":300,"y":0}]},
   "mark":{"type":"point","opacity":0},
   "encoding":{
    "x":{"field":"x","type":"quantitative","axis":{"orient":"top","labels":false,"values":[300,400,500,600,700,800]}},
    "y":{"field":"y","type":"quantitative","axis":{"orient":"right","labels":false,"values":[-0.02,-0.01,0,0.01,0.02]}}
   }}
 ],
 "resolve":{"axis":{"x":"independent","y":"independent"}}
}
]
}
